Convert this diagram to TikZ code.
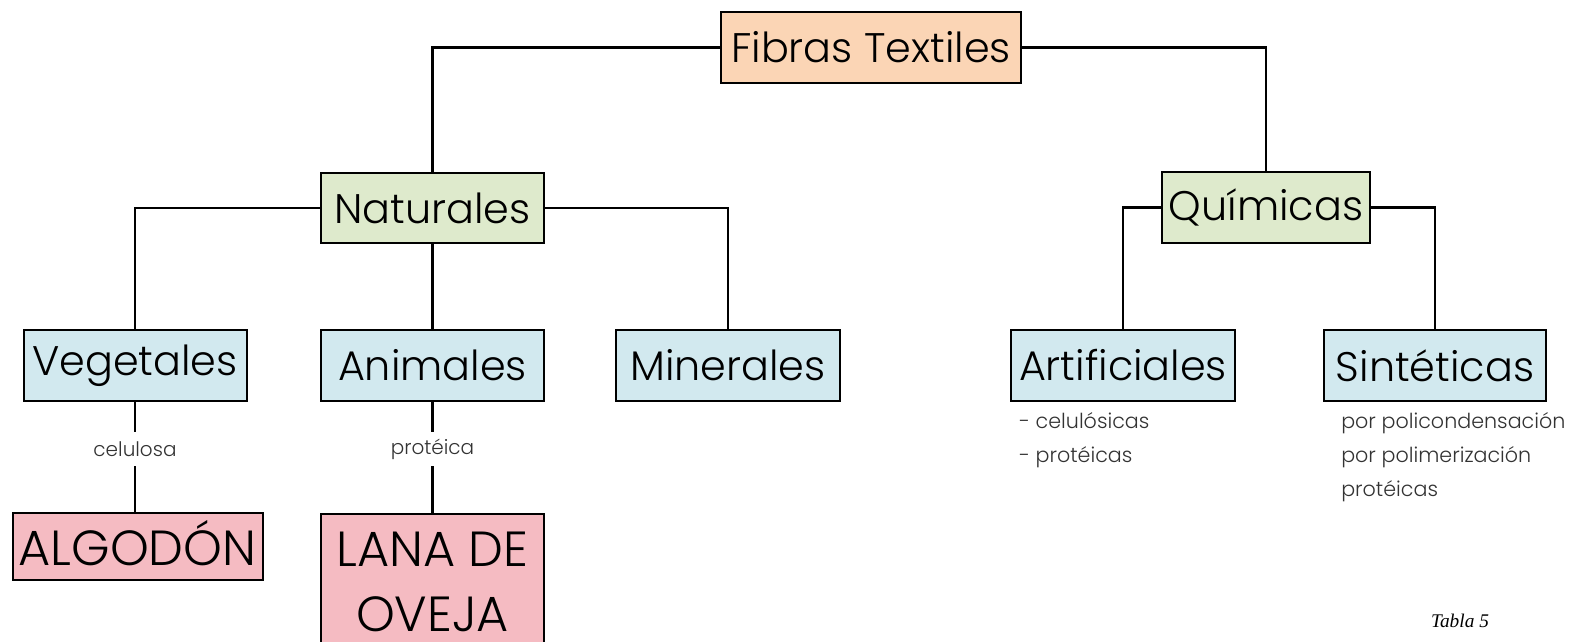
\documentclass[tikz,border=0pt]{standalone}
\usepackage{fontspec}
\setmainfont{Poppins Light}
\newfontfamily\capfont{Liberation Serif}
\definecolor{peach}{HTML}{FBD5B5}
\definecolor{leaf}{HTML}{DEEACC}
\definecolor{sky}{HTML}{D2E9EF}
\definecolor{rose}{HTML}{F5BBC2}
\definecolor{note}{HTML}{333333}
\begin{document}
\begin{tikzpicture}[x=0.75pt,y=-0.75pt,
  box/.style={draw=black, line width=1.5pt, inner sep=0pt, align=center,
    font=\fontsize{31}{40}\selectfont},
  word/.style={inner sep=0pt, font=\fontsize{37}{50}\selectfont},
  link/.style={line width=1.6pt},
  stem/.style={line width=2.2pt},
  tag/.style={inner sep=0pt, minimum height=25.5pt, text=note,
    font=\fontsize{15}{18}\selectfont},
  list/.style={inner sep=0pt, anchor=west, text=note, align=left,
    font=\fontsize{15.5}{25.5}\selectfont}]
\useasboundingbox (0,0) rectangle (1579,642);
\clip (0,0) rectangle (1579,642);

% top level
\node[box, fill=peach, minimum width=225pt, minimum height=53.25pt] (ft) at (871,47.5) {Fibras Textiles};

% second level
\node[box, fill=leaf, minimum width=167.25pt, minimum height=52.5pt] (nat) at (432.5,208) {Naturales};
\node[box, fill=leaf, minimum width=156pt, minimum height=53.25pt] (qui) at (1266,207.5) {Químicas};

% third level
\node[box, fill=sky, minimum width=167.25pt, minimum height=53.25pt] (veg) at (135,365.5) {Vegetales};
\node[box, fill=sky, minimum width=167.25pt, minimum height=53.25pt] (ani) at (432.5,365.5) {Animales};
\node[box, fill=sky, minimum width=168pt, minimum height=53.25pt] (min) at (728,365.5) {Minerales};
\node[box, fill=sky, minimum width=168pt, minimum height=53.25pt] (art) at (1123,365.5) {Artificiales};
\node[box, fill=sky, minimum width=166.5pt, minimum height=53.25pt] (sin) at (1435,365.5) {Sintéticas};

% examples
\node[box, fill=rose, minimum width=187.5pt, minimum height=50.25pt] (alg) at (137.5,546.5) {};
\node[word, anchor=base] (algt) at (137.5,565) {ALGODÓN};
\node[box, fill=rose, minimum width=167.25pt, minimum height=150pt, anchor=north] (lana) at (432.5,513) {};
\node[word, anchor=base] (lana1) at (432.5,566) {LANA DE};
\node[word, anchor=base, text depth=0pt] (lana2) at (432.5,631) {OVEJA};

% connector labels
\node[tag] (cel) at (135,449) {celulosa};
\node[tag] (pro) at (432.5,449) {protéica};

% sub-type lists
\node[list] (artl) at (1019,440.5) {- celulósicas\\- protéicas};
\node[list] (sinl) at (1341,457.5) {por policondensación\\por polimerización\\protéicas};

\node[inner sep=0pt, font=\capfont\itshape\fontsize{14.5}{16}\selectfont] (tab) at (1460,621) {Tabla 5};

% connectors
\draw[link] (ft.west) -| (nat.north);
\draw[link] (ft.east) -| (qui.north);
\draw[link] (nat.west) -| (veg.north);
\draw[link] (nat.east) -| (min.north);
\draw[link] (nat.south) -- (ani.north);
\draw[link] (qui.west) -| (art.north);
\draw[link] (qui.east) -| (sin.north);
\draw[stem] (veg.south) -- (cel.north);
\draw[stem] (cel.south) -- (cel.south |- alg.north);
\draw[stem] (ani.south) -- (pro.north);
\draw[stem] (pro.south) -- (lana.north);
\end{tikzpicture}
\end{document}
